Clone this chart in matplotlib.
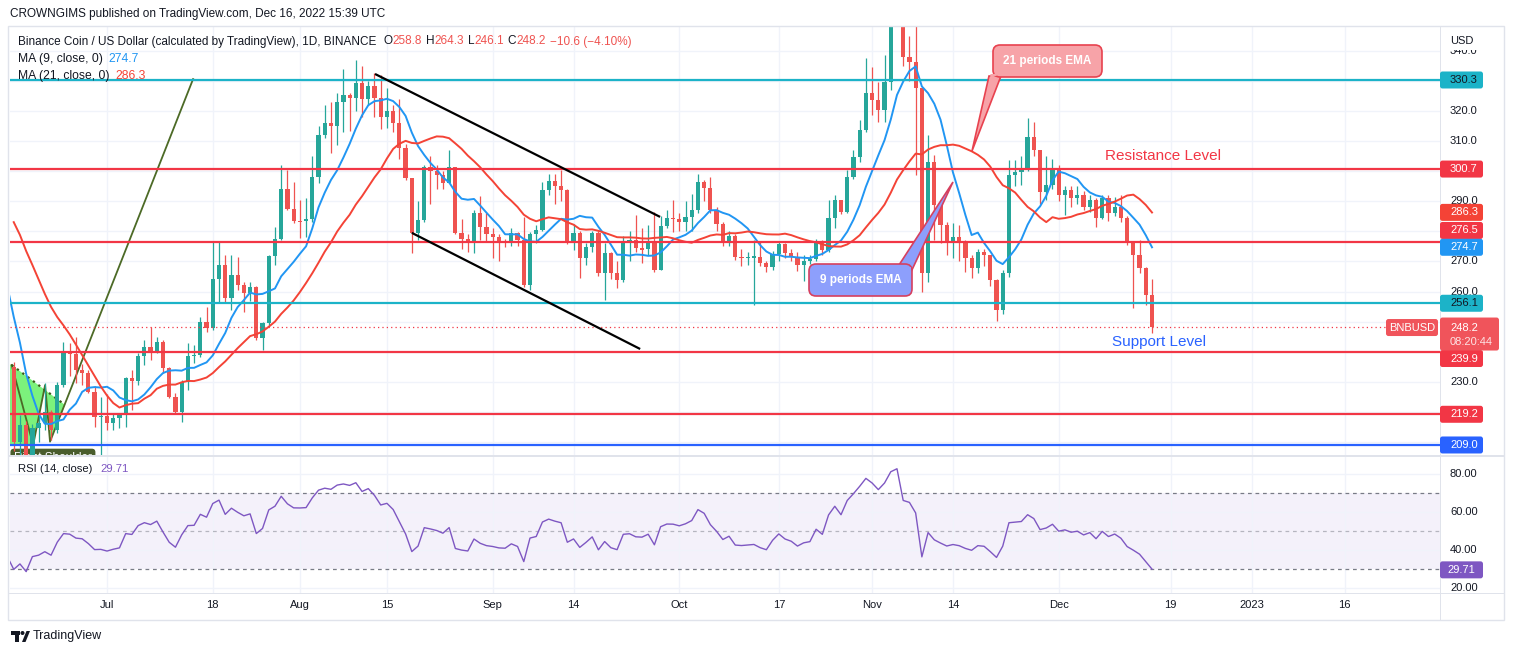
import numpy as np
import pandas as pd
import matplotlib
matplotlib.use("Agg")
import matplotlib.pyplot as plt
import matplotlib.dates as mdates
from matplotlib.patches import FancyBboxPatch, Polygon, Rectangle, Circle
from matplotlib.transforms import Affine2D

plt.rcParams['font.family'] = ['Liberation Sans', 'DejaVu Sans']

# ---------------- data ----------------
# closes before the visible window, only used to warm up the MAs / RSI (May 27 - Jun 15)
warmup_close = [305, 310, 312, 318, 320, 305, 300, 298, 302, 305,
                306, 299, 293, 291, 280, 270, 250, 215, 220, 235]
first_open = 235.0

# daily candles Jun 16 - Dec 16 2022
close = [
    210.1, 215.6, 198.0, 214.5, 216.2, 220.1, 214.0, 228.9, 240.0, 239.2, 233.9, 233.0, 226.7, 218.4, 218.6,
    216.4, 217.9, 219.0, 231.2, 230.4, 238.6, 241.5, 240.0, 243.1, 234.5, 225.1, 220.1, 230.0, 238.6, 238.9,
    250.0, 247.8, 264.0, 268.8, 257.7, 265.5, 262.2, 259.4, 261.5, 244.4, 249.4, 271.8, 277.3, 294.0, 287.3, 283.6,
    283.5, 284.0, 298.2, 312.0, 315.9, 315.1, 323.1, 325.3, 324.4, 329.2, 323.9, 328.3, 324.2, 318.1, 320.0,
    316.1, 307.6, 297.8, 279.3, 283.8, 301.5, 300.2, 298.7, 296.2, 301.3, 279.3, 277.3, 276.2, 286.2, 281.6, 279.1,
    278.2, 276.8, 276.5, 279.3, 277.1, 262.2, 279.1, 280.4, 293.7, 296.7, 295.1, 293.9, 276.9, 279.6, 271.0,
    274.9, 279.3, 266.0, 272.7, 266.0, 263.8, 276.6, 277.1, 274.3, 274.0, 276.2, 267.1, 281.8, 284.3, 284.2,
    283.0, 284.6, 287.1, 296.5, 294.3, 287.1, 282.4, 276.2, 278.4, 271.4, 271.0, 271.3, 271.6, 269.4, 268.0,
    272.5, 275.8, 272.9, 271.6, 268.8, 270.2, 270.7, 276.2, 273.8, 284.3, 290.4, 286.5, 297.9, 304.8, 313.7, 325.9,
    323.6, 320.3, 329.7, 352.0, 360.0, 338.0, 336.4, 327.5, 266.0, 303.2, 288.8, 282.1, 276.0, 278.2, 276.0,
    271.0, 267.7, 273.2, 272.2, 263.8, 253.9, 266.0, 298.7, 299.8, 300.7, 311.5, 307.0, 293.2, 295.4, 300.4,
    292.1, 293.7, 291.0, 292.1, 288.2, 290.4, 284.3, 291.0, 286.0, 288.2, 284.3, 276.0, 272.1, 267.7, 258.8, 248.2,
]
high = [
    236.5, 219.0, 217.0, 216.0, 219.0, 229.5, 220.6, 230.0, 243.3, 242.8, 245.0, 236.0, 234.0, 228.5, 225.0,
    226.0, 219.5, 219.5, 231.7, 233.9, 239.5, 243.9, 248.3, 245.0, 243.9, 235.0, 226.2, 230.6, 242.8, 242.3,
    251.6, 255.0, 276.6, 276.6, 272.1, 272.0, 271.6, 263.0, 263.0, 262.0, 250.0, 272.1, 281.6, 302.0, 300.4, 296.5,
    290.4, 291.0, 305.0, 315.0, 322.0, 323.0, 326.0, 333.9, 326.0, 336.9, 335.0, 330.0, 332.6, 332.0, 327.5,
    322.0, 324.0, 309.0, 297.5, 290.0, 302.0, 305.0, 302.0, 300.0, 307.0, 301.5, 284.0, 279.0, 287.0, 291.9, 286.0,
    281.0, 279.0, 277.5, 281.0, 279.7, 284.8, 279.7, 282.0, 296.5, 299.0, 299.0, 300.4, 294.0, 282.5, 280.0,
    276.0, 280.0, 280.0, 276.0, 273.0, 270.0, 278.5, 280.0, 285.4, 281.0, 282.0, 286.5, 285.0, 287.0, 290.4,
    286.0, 290.0, 292.3, 299.0, 297.0, 298.0, 288.0, 283.0, 280.0, 279.0, 274.0, 273.0, 277.0, 276.3, 270.0,
    273.5, 276.4, 276.0, 274.0, 273.0, 272.0, 272.0, 277.5, 277.0, 290.4, 292.0, 290.4, 300.5, 307.0, 317.0, 337.5,
    334.7, 329.7, 338.6, 358.0, 366.0, 362.0, 345.0, 350.0, 327.5, 312.0, 305.5, 290.0, 283.0, 282.7, 282.0,
    277.0, 272.0, 274.0, 274.0, 272.0, 264.0, 267.0, 303.7, 303.7, 305.0, 317.6, 316.2, 307.0, 305.0, 304.0,
    302.0, 295.0, 295.0, 295.0, 293.5, 292.0, 291.0, 292.0, 292.0, 291.5, 292.0, 285.0, 276.0, 277.0, 268.0, 264.3,
]
low = [
    207.0, 205.0, 183.0, 196.0, 210.0, 214.0, 210.7, 213.0, 228.4, 232.0, 229.5, 229.0, 226.2, 215.1, 203.0,
    214.0, 214.0, 214.5, 215.0, 220.6, 229.0, 235.6, 237.2, 239.5, 232.8, 224.5, 219.5, 216.7, 227.3, 236.2,
    238.3, 246.7, 247.2, 256.6, 256.6, 254.0, 260.5, 253.3, 257.0, 244.0, 240.6, 249.0, 268.8, 277.0, 287.0, 282.9,
    277.7, 278.0, 283.0, 296.0, 311.0, 306.0, 308.8, 313.0, 313.3, 320.0, 318.0, 322.0, 318.0, 314.0, 314.2,
    313.0, 304.0, 297.0, 272.7, 277.0, 283.0, 289.0, 294.0, 294.0, 296.0, 279.0, 274.0, 273.0, 272.7, 277.0, 276.6,
    271.0, 270.0, 274.9, 275.0, 275.0, 261.5, 260.6, 276.0, 280.0, 292.0, 289.0, 290.0, 275.8, 273.8, 264.6,
    268.8, 273.0, 265.0, 257.2, 264.0, 261.3, 263.0, 270.0, 273.0, 269.5, 272.3, 266.5, 267.0, 281.0, 279.9,
    280.0, 280.0, 280.0, 286.0, 290.0, 286.0, 280.0, 275.0, 275.0, 270.5, 268.5, 268.8, 255.5, 268.5, 266.5,
    267.0, 270.0, 271.0, 270.0, 266.8, 263.5, 269.0, 270.0, 272.0, 273.0, 281.0, 285.6, 286.0, 297.4, 303.0, 313.0,
    318.7, 316.4, 316.4, 327.0, 349.0, 335.0, 330.0, 298.8, 260.0, 263.3, 277.0, 276.0, 272.0, 271.0, 270.0,
    266.5, 264.5, 266.0, 268.5, 262.0, 250.2, 252.5, 264.8, 295.0, 295.5, 300.0, 305.0, 289.0, 290.5, 294.0,
    290.0, 285.5, 288.0, 289.0, 287.0, 286.5, 281.6, 284.0, 283.5, 285.0, 283.0, 275.5, 254.4, 266.0, 255.5, 246.1,
]
assert len(close) == len(high) == len(low) == 184

levels = [330.3, 300.7, 276.5, 256.1, 239.9, 219.2, 209.0]
level_colors = ['#1cb3c8', '#f23645', '#f23645', '#1cb3c8', '#f23645', '#f23645', '#2962ff']

# drawings on the chart: (date, price) anchors
channel_upper = [('2022-08-13 02:00', 332.3), ('2022-09-27 22:00', 284.8)]
channel_lower = [('2022-08-19 00:00', 279.5), ('2022-09-24 17:00', 240.9)]
pattern_path = [('2022-06-15 16:00', 235.6), ('2022-06-19 03:00', 209.0), ('2022-06-21 01:00', 228.9),
                ('2022-06-21 20:00', 210.1), ('2022-07-14 20:00', 330.6)]
shoulder_top = [('2022-06-15 16:00', 235.6), ('2022-06-24 06:00', 222.3)]
shoulder_fill = [('2022-06-15 16:00', 235.6), ('2022-06-24 06:00', 222.3), ('2022-06-21 20:00', 210.1),
                 ('2022-06-21 01:00', 228.9), ('2022-06-19 03:00', 209.0), ('2022-06-14 14:00', 209.0),
                 ('2022-06-14 14:00', 235.6)]

time_ticks = ['2022-07-01', '2022-07-18', '2022-08-01', '2022-08-15', '2022-09-01', '2022-09-14',
              '2022-10-01', '2022-10-17', '2022-11-01', '2022-11-14', '2022-12-01', '2022-12-19',
              '2023-01-01', '2023-01-16']
time_labels = ['Jul', '18', 'Aug', '15', 'Sep', '14', 'Oct', '17', 'Nov', '14', 'Dec', '19', '2023', '16']

# price scale labels that stay visible (the others sit under the coloured tags)
price_ticks = [340, 320, 310, 290, 270, 260, 230]

# ---------------- derived series ----------------
all_close = pd.Series(warmup_close + close,
                      index=pd.date_range('2022-05-27', periods=len(warmup_close) + len(close), freq='D'))
ma9 = all_close.rolling(9).mean()
ma21 = all_close.rolling(21).mean()
delta = all_close.diff()
up = delta.clip(lower=0).ewm(alpha=1 / 14, adjust=False).mean()
dn = (-delta.clip(upper=0)).ewm(alpha=1 / 14, adjust=False).mean()
rsi = 100 - 100 / (1 + up / dn)

days = pd.date_range('2022-06-16', periods=len(close), freq='D')
x = mdates.date2num(days)
c = np.array(close)
o = np.array([first_open] + close[:-1])
h = np.array(high)
l = np.array(low)

UP, DOWN = '#26a69a', '#ef5350'
DARK = '#131722'

W, H = 1514, 655
fig = plt.figure(figsize=(W / 100, H / 100), dpi=100)
fig.patch.set_facecolor('white')
pix = Affine2D().scale(1, -1).translate(0, H)   # top-left pixel coords

ax = fig.add_axes([10 / W, 1 - 455 / H, 1430 / W, 428 / H])
ax2 = fig.add_axes([10 / W, 1 - 593 / H, 1430 / W, 137 / H])

x0 = mdates.date2num(pd.Timestamp('2022-06-15 09:36'))
x1 = mdates.date2num(pd.Timestamp('2023-01-31 07:12'))
tick_nums = mdates.date2num(pd.to_datetime(time_ticks))

for a in (ax, ax2):
    a.set_xlim(x0, x1)
    a.set_xticks(tick_nums)
    a.tick_params(length=0, labelbottom=False, labelleft=False)
    for s in a.spines.values():
        s.set_visible(False)
    a.grid(True, color='#f0f3fa', lw=1)
    a.set_axisbelow(True)

ax.set_ylim(205.67, 347.91)
ax.set_yticks(np.arange(210, 350, 10))
ax2.set_ylim(17.53, 89.63)
ax2.set_yticks([20, 40, 60, 80])

# ---------------- price pane ----------------
def anchors(pts):
    return [(mdates.date2num(pd.Timestamp(d)), p) for d, p in pts]

# head & shoulders drawing (behind the candles)
ax.add_patch(Polygon(anchors(shoulder_fill), closed=True, fc='#7cf27c', ec='none', zorder=1))
px_, py_ = zip(*anchors(pattern_path))
ax.plot(px_, py_, color='#4c6a26', lw=1.3, zorder=1.5)
sx, sy = zip(*anchors(shoulder_top))
ax.plot(sx, sy, color='#3c5a1c', lw=1.6, ls=(0, (1, 2)), zorder=1.5)
rs_x, rs_y = anchors([('2022-06-16 01:00', 204.6)])[0]
ax.text(rs_x, rs_y, 'Right Shoulder', color='white', fontsize=8.5, va='center', ha='left',
        bbox=dict(boxstyle='round,pad=0.3', fc='#4a5d2c', ec='none'), clip_on=True, zorder=1.2)

colors = np.where(c >= o, UP, DOWN)
body = c - o
body = np.where(np.abs(body) < 0.35, np.where(body >= 0, 0.35, -0.35), body)
ax.vlines(x, l, h, colors=colors, lw=0.9, zorder=2)
ax.bar(x, body, bottom=o, width=0.68, color=colors, lw=0, zorder=2.1)

ax.plot(mdates.date2num(ma9.index), ma9.values, color='#2196f3', lw=1.4, zorder=3)
ax.plot(mdates.date2num(ma21.index), ma21.values, color='#f44336', lw=1.4, zorder=3)

for lvl, col in zip(levels, level_colors):
    ax.axhline(lvl, color=col, lw=1.6, zorder=4)
ax.axhline(close[-1], color='#f23645', lw=0.9, ls=(0, (1, 2.5)), zorder=4)

for pts in (channel_upper, channel_lower):
    cx, cy = zip(*anchors(pts))
    ax.plot(cx, cy, color='black', lw=1.6, zorder=4.5, solid_capstyle='butt')

# ---------------- RSI pane ----------------
ax2.axhspan(30, 70, color='#7e57c2', alpha=0.08, lw=0, zorder=0.5)
ax2.axhline(70, color='#787b86', lw=0.9, ls=(0, (3, 3)))
ax2.axhline(50, color='#787b86', lw=0.9, ls=(0, (3, 3)), alpha=0.5)
ax2.axhline(30, color='#787b86', lw=0.9, ls=(0, (3, 3)))
ax2.plot(mdates.date2num(rsi.index), rsi.values, color='#7e57c2', lw=1.0, zorder=3)

# ---------------- frame ----------------
fig.add_artist(Rectangle((8, 26), 1496, 594, transform=pix, fill=False, ec='#e0e3eb', lw=1))
fig.add_artist(Rectangle((8, 455), 1496, 1.5, transform=pix, fc='#e0e3eb', ec='none'))
fig.add_artist(Rectangle((8, 593), 1496, 1, transform=pix, fc='#e0e3eb', ec='none'))
fig.add_artist(Rectangle((1440, 26), 1, 594, transform=pix, fc='#e0e3eb', ec='none'))


def ypx(a, v):
    return H - a.transData.transform((x0, v))[1]


def xpx(v):
    return ax.transData.transform((v, 0))[0]


def tag(yc, text, fc, tc, w=43, hgt=17, zorder=6):
    fig.add_artist(FancyBboxPatch((1440, yc - hgt / 2), w, hgt, transform=pix,
                                  boxstyle='round,pad=0,rounding_size=2.5', fc=fc, ec='none', zorder=zorder))
    fig.text(1450, yc, text, transform=pix, color=tc, fontsize=8, va='center', ha='left', zorder=zorder + 1)


# price axis tick labels
for v in price_ticks:
    fig.text(1450, ypx(ax, v), f'{v:.1f}', transform=pix, color=DARK, fontsize=8, va='center', zorder=3)
fig.text(1450, 40.7, 'USD', transform=pix, color=DARK, fontsize=8, va='center', zorder=4,
         bbox=dict(boxstyle='square,pad=0.35', fc='white', ec='none'))

tag_shift = {276.5: -11.4, 239.9: 6.5}
text_colors = {'#1cb3c8': DARK}
for lvl, col in zip(levels, level_colors):
    tag(ypx(ax, lvl) + tag_shift.get(lvl, 0), f'{lvl:.1f}', col, text_colors.get(col, 'white'))
tag(ypx(ax, 286.3), '286.3', '#f44336', 'white')
tag(ypx(ax, 274.7), '274.7', '#2196f3', 'white')

# last price tag
yl = ypx(ax, close[-1])
fig.add_artist(FancyBboxPatch((1440, yl - 9.5), 59, 33, transform=pix,
                              boxstyle='round,pad=0,rounding_size=2.5', fc='#f0545b', ec='none', zorder=8))
fig.text(1450, yl + 1, f'{close[-1]:.1f}', transform=pix, color='white', fontsize=8, va='center', zorder=9)
fig.text(1450, yl + 15, '08:20:44', transform=pix, color='#fde3e4', fontsize=8, va='center', zorder=9)
fig.add_artist(FancyBboxPatch((1386, yl - 8), 52, 17, transform=pix,
                              boxstyle='round,pad=0,rounding_size=2.5', fc='#f0545b', ec='none', zorder=8))
fig.text(1412, yl + 0.5, 'BNBUSD', transform=pix, color='white', fontsize=8, va='center', ha='center', zorder=9)

# RSI axis labels
for v in (80, 60, 40, 20):
    fig.text(1450, ypx(ax2, v), f'{v:.2f}', transform=pix, color=DARK, fontsize=8, va='center', zorder=3)
fig.add_artist(FancyBboxPatch((1440, ypx(ax2, 29.71) - 8.5), 43, 17, transform=pix,
                              boxstyle='round,pad=0,rounding_size=2.5', fc='#7e57c2', ec='none', zorder=6))
fig.text(1447, ypx(ax2, 29.71), '29.71', transform=pix, color='white', fontsize=8, va='center', zorder=7)

# time axis labels
for t, lab in zip(tick_nums, time_labels):
    fig.text(xpx(t), 605.5, lab, transform=pix, color=DARK, fontsize=8, va='center', ha='center')

# ---------------- texts ----------------
renderer = fig.canvas.get_renderer()


def chain(xs, y, pieces, size=8.7):
    for s, col, gap in pieces:
        t = fig.text(xs, y, s, transform=pix, color=col, fontsize=size, va='center', ha='left', zorder=10)
        xs += t.get_window_extent(renderer).width + gap


fig.text(10, 14, 'CROWNGIMS published on TradingView.com, Dec 16, 2022 15:39 UTC', transform=pix,
         color=DARK, fontsize=8.45, va='center')
chain(18, 41.5, [('Binance Coin / US Dollar (calculated by TradingView), 1D, BINANCE', DARK, 7),
                 ('O', DARK, 0), ('258.8', DOWN, 4), ('H', DARK, 0), ('264.3', DOWN, 4),
                 ('L', DARK, 0), ('246.1', DOWN, 4), ('C', DARK, 0), ('248.2', DOWN, 4),
                 ('\u221210.6 (\u22124.10%)', DOWN, 0)], size=8.5)
chain(18, 59, [('MA (9, close, 0)', DARK, 6), ('274.7', '#2196f3', 0)])
chain(18, 76, [('MA (21, close, 0)', DARK, 6), ('286.3', '#f44336', 0)])
chain(18, 469, [('RSI (14, close)', DARK, 8), ('29.71', '#7e57c2', 0)], size=8.1)

fig.text(1105, 156, 'Resistance Level', transform=pix, color='#f23645', fontsize=11, va='center')
fig.text(1112, 342, 'Support Level', transform=pix, color='#2962ff', fontsize=11, va='center')

# callouts
fig.add_artist(Polygon([(989, 76), (1001, 76), (972, 151)], closed=True, transform=pix,
                       fc='#f7a3a8', ec='#e8424f', lw=1.2, zorder=11))
fig.add_artist(FancyBboxPatch((993, 45), 109, 32, transform=pix, boxstyle='round,pad=0,rounding_size=7',
                              fc='#f7a3a8', ec='#e8424f', lw=1.2, zorder=11))
fig.add_artist(Polygon([(990.5, 74), (999.5, 74), (990, 79)], closed=True, transform=pix,
                       fc='#f7a3a8', ec='none', zorder=12))
fig.text(1047.5, 61, '21 periods EMA', transform=pix, color='white', fontsize=8.5, fontweight='bold',
         va='center', ha='center', zorder=13)

fig.add_artist(Polygon([(899, 265), (911, 272), (953, 182)], closed=True, transform=pix,
                       fc='#8d9ffc', ec='#d6405f', lw=1.2, zorder=11))
fig.add_artist(FancyBboxPatch((809, 264), 103, 32, transform=pix, boxstyle='round,pad=0,rounding_size=7',
                              fc='#8d9ffc', ec='#d6405f', lw=1.2, zorder=11))
fig.add_artist(Polygon([(900, 266.5), (910.5, 266.5), (910.5, 271)], closed=True, transform=pix,
                       fc='#8d9ffc', ec='none', zorder=12))
fig.text(860.5, 280, '9 periods EMA', transform=pix, color='white', fontsize=8.5, fontweight='bold',
         va='center', ha='center', zorder=13)

# footer logo
fig.add_artist(Rectangle((11, 631), 9, 4, transform=pix, fc=DARK, ec='none'))
fig.add_artist(Rectangle((15, 631), 4, 11, transform=pix, fc=DARK, ec='none'))
fig.add_artist(Circle((22.5, 633), 2, transform=pix, fc=DARK, ec='none'))
fig.add_artist(Polygon([(22, 642), (26.5, 631), (30, 631), (25.5, 642)], closed=True, transform=pix,
                       fc=DARK, ec='none'))
fig.text(33, 636.5, 'TradingView', transform=pix, color=DARK, fontsize=9, va='center')

fig.savefig('out.png', dpi=100, facecolor='white')
